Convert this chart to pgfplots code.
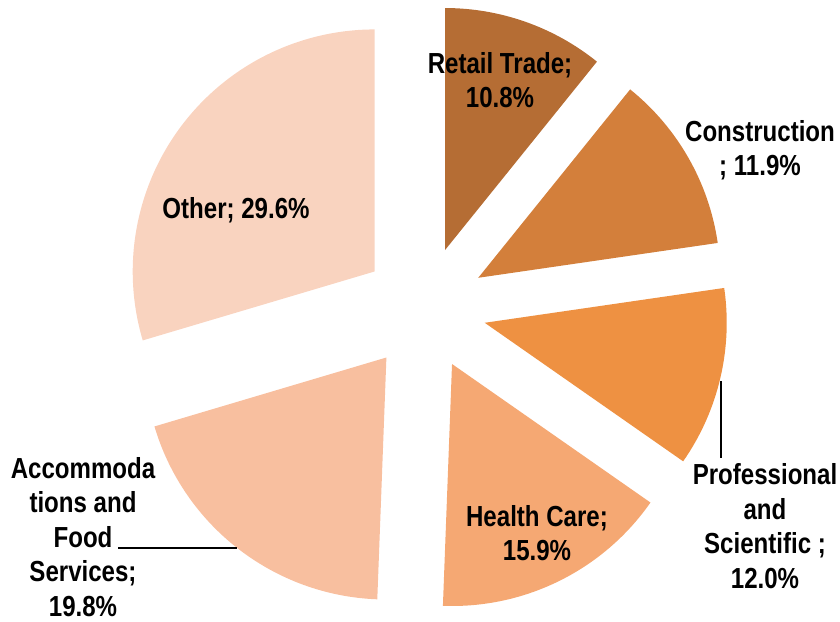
\documentclass[border=0pt]{standalone}
\usepackage{pgfplots}
\pgfplotsset{compat=1.18}
\usetikzlibrary{calc}
\usepackage{fontspec}
\setmainfont{Liberation Sans}
\newfontfamily\lab{Liberation Sans}[FakeStretch=0.83]
\definecolor{cRetail}{HTML}{B56D34}
\definecolor{cCons}{HTML}{D37F3B}
\definecolor{cProf}{HTML}{EE9142}
\definecolor{cHealth}{HTML}{F5A873}
\definecolor{cAccom}{HTML}{F8BF9F}
\definecolor{cOther}{HTML}{F9D3BF}
% #1 = cumulative start (%), #2 = share (%), #3 = colour
\newcommand\slice[3]{%
  \fill[#3] ($(axis cs:424.4,308.5)+({90-3.6*(#1+#2/2)}:62pt)$)
    -- ++({90-3.6*#1}:242pt)
    arc[start angle={90-3.6*#1}, end angle={90-3.6*(#1+#2)}, radius=242pt]
    -- cycle;}
\begin{document}
\begin{tikzpicture}
\begin{axis}[x={(1pt,0)}, y={(0,-1pt)}, xmin=0, xmax=840, ymin=0, ymax=621,
  hide axis, clip=false]
\path (axis cs:0,0) rectangle (axis cs:840,621);
\slice{0}{10.8}{cRetail}
\slice{10.8}{11.9}{cCons}
\slice{22.7}{12.0}{cProf}
\slice{34.7}{15.9}{cHealth}
\slice{50.6}{19.8}{cAccom}
\slice{70.4}{29.6}{cOther}
\draw[line width=1.3pt] (axis cs:721,381) -- (axis cs:721,458);
\draw[line width=1.3pt] (axis cs:118,548) -- (axis cs:237,548);
\begin{scope}[every node/.style={font=\lab\bfseries\fontsize{29}{34.5}\selectfont, align=center, inner sep=0pt}]
\node at (axis cs:500,80) {Retail Trade;\\10.8\%};
\node at (axis cs:760,150) {Construction\\; 11.9\%};
\node at (axis cs:236,210) {Other; 29.6\%};
\node at (axis cs:765,526) {Professional\\and\\Scientific ;\\12.0\%};
\node at (axis cs:537,533) {Health Care;\\15.9\%};
\node at (axis cs:83,537) {Accommoda\\tions and\\Food\\Services;\\19.8\%};
\end{scope}
\end{axis}
\end{tikzpicture}
\end{document}
